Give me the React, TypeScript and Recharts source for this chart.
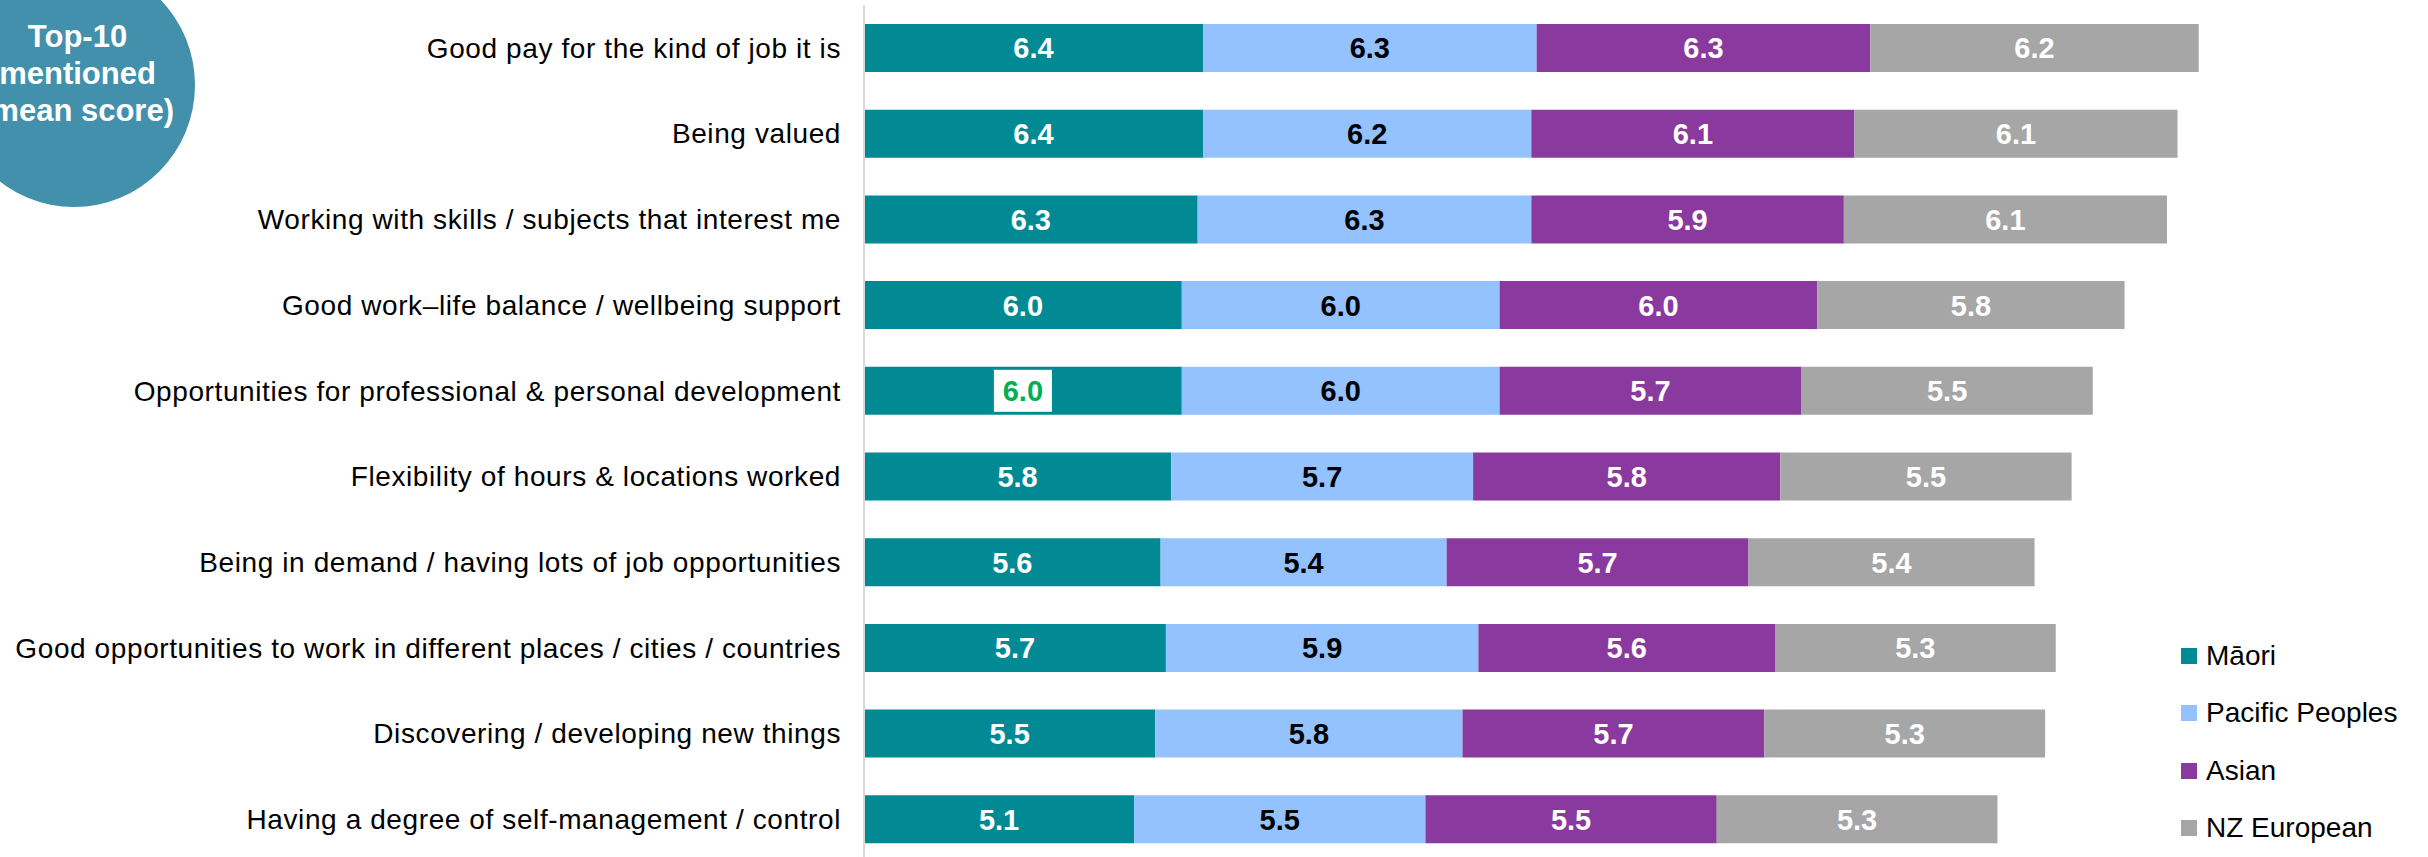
import { BarChart, Bar, XAxis, YAxis, LabelList } from 'recharts'

const categories = [
  'Good pay for the kind of job it is',
  'Being valued',
  'Working with skills / subjects that interest me',
  'Good work–life balance / wellbeing support',
  'Opportunities for professional & personal development',
  'Flexibility of hours & locations worked',
  'Being in demand / having lots of job opportunities',
  'Good opportunities to work in different places / cities / countries',
  'Discovering / developing new things',
  'Having a degree of self-management / control',
]

const maori = [6.4, 6.4, 6.3, 6.0, 6.0, 5.8, 5.6, 5.7, 5.5, 5.1]
const pacific = [6.3, 6.2, 6.3, 6.0, 6.0, 5.7, 5.4, 5.9, 5.8, 5.5]
const asian = [6.3, 6.1, 5.9, 6.0, 5.7, 5.8, 5.7, 5.6, 5.7, 5.5]
const nzEuropean = [6.2, 6.1, 6.1, 5.8, 5.5, 5.5, 5.4, 5.3, 5.3, 5.3]

// Māori label that is called out with a white box and green text
const highlightIndex = 4

const titleLines = ['Top-10', 'mentioned', '(mean score)']

const series = [
  { key: 'maori', name: 'Māori', color: '#028A94', label: '#fff' },
  { key: 'pacific', name: 'Pacific Peoples', color: '#93C2FF', label: '#000' },
  { key: 'asian', name: 'Asian', color: '#8A3A9E', label: '#fff' },
  { key: 'nz', name: 'NZ European', color: '#A6A6A6', label: '#fff' },
]

const data = categories.map((name, i) => ({
  name,
  maori: maori[i],
  pacific: pacific[i],
  asian: asian[i],
  nz: nzEuropean[i],
}))

const FONT = '"Liberation Sans", Arial, sans-serif'

const makeLabel = (color: string, highlight?: number) => (props: any) => {
  const { x, y, width, height, value, index } = props
  const cx = Number(x) + Number(width) / 2
  const cy = Number(y) + Number(height) / 2
  const hi = index === highlight
  return (
    <g>
      {hi && <rect x={cx - 29} y={cy - 21} width={58} height={42} fill="#fff" />}
      <text
        x={cx}
        y={cy}
        dy="0.36em"
        textAnchor="middle"
        fill={hi ? '#00B050' : color}
        fontSize={29}
        fontWeight="bold"
        fontFamily={FONT}
      >
        {Number(value).toFixed(1)}
      </text>
    </g>
  )
}

const CategoryTick = ({ x, y, payload }: any) => (
  <text
    x={x}
    y={y}
    dy="0.355em"
    textAnchor="end"
    fontSize={28}
    letterSpacing={0.6}
    fill="#000"
    fontFamily={FONT}
  >
    {payload.value}
  </text>
)

export default function App() {
  return (
    <div style={{ position: 'absolute', left: 0, top: 0, width: 2428, height: 857, overflow: 'hidden', background: '#fff' }}>
      <BarChart
        width={2428}
        height={862}
        data={data}
        layout="vertical"
        margin={{ top: 5, right: 28, bottom: 0, left: 0 }}
        barSize={48}
      >
        <XAxis type="number" hide domain={[0, 29]} />
        <YAxis
          type="category"
          dataKey="name"
          width={864}
          tickLine={false}
          tickSize={0}
          tickMargin={23}
          axisLine={{ stroke: '#D9D9D9', strokeWidth: 2 }}
          tick={<CategoryTick />}
          interval={0}
        />
        {series.map(s => (
          <Bar key={s.key} dataKey={s.key} name={s.name} stackId="a" fill={s.color} isAnimationActive={false}>
            <LabelList dataKey={s.key} content={makeLabel(s.label, s.key === 'maori' ? highlightIndex : undefined)} />
          </Bar>
        ))}
      </BarChart>

      {/* legend */}
      <div style={{ position: 'absolute', left: 2181, top: 627, fontFamily: FONT, fontSize: 28, color: '#000' }}>
        {series.map(s => (
          <div key={s.key} style={{ display: 'flex', alignItems: 'center', height: 57.5 }}>
            <span style={{ width: 16, height: 16, background: s.color, marginRight: 9, display: 'inline-block' }} />
            <span>{s.name}</span>
          </div>
        ))}
      </div>

      <svg width={220} height={220} style={{ position: 'absolute', left: 0, top: 0 }}>
        <ellipse cx={74} cy={85} rx={121} ry={122} fill="#4390AC" />
        {titleLines.map((t, i) => (
          <text
            key={t}
            x={77.5}
            y={47 + i * 36.8}
            textAnchor="middle"
            fill="#fff"
            fontSize={31}
            fontWeight="bold"
            fontFamily={FONT}
          >
            {t}
          </text>
        ))}
      </svg>
    </div>
  )
}
